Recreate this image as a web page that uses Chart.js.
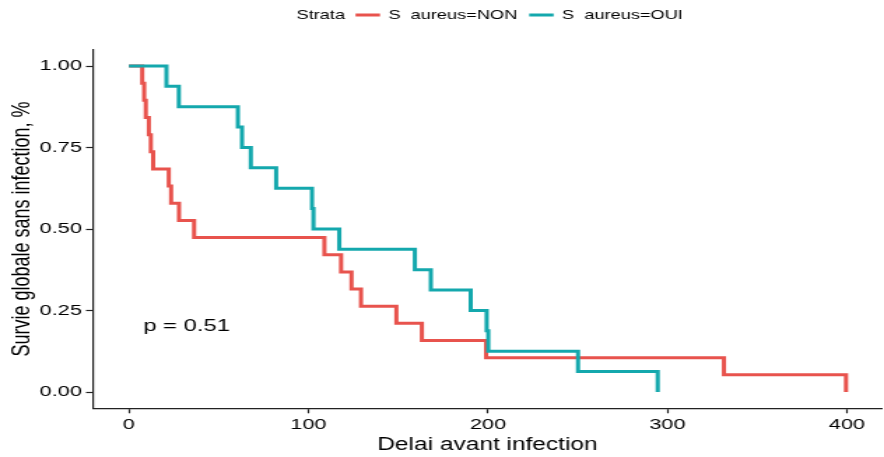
<!DOCTYPE html>
<html>
<head>
    <title>Survie globale sans infection</title>
    <script src="https://cdn.jsdelivr.net/npm/chart.js"></script>
    <style>
        body { margin: 0; overflow: hidden; background: #fff; }
        /* the reference plot is stretched horizontally, so draw narrow and scale */
        #wrap { width: 632px; height: 457px; transform: scaleX(1.39873); transform-origin: 0 0; }
    </style>
</head>
<body>
    <div id="wrap"><canvas id="chart"></canvas></div>

    <script>
        // Kaplan-Meier curves
        var nonTimes = [0, 7.4, 8.5, 9.4, 11.1, 12.2, 13.5, 22.2, 23.5, 27.9, 36.3, 108.9, 118.2, 124, 129.3, 149, 163.2, 199, 331.5, 399.5];
        var nonSurv  = [1, 0.947, 0.895, 0.842, 0.789, 0.737, 0.684, 0.632, 0.579, 0.526, 0.474, 0.421, 0.368, 0.316, 0.263, 0.211, 0.158, 0.105, 0.053, 0];

        var ouiTimes = [0, 20.9, 27.8, 60.7, 63, 67.9, 82, 102, 102.8, 117.2, 159.3, 168.2, 190.4, 199.3, 200.2, 250.2, 294.6];
        var ouiSurv  = [1, 0.938, 0.875, 0.813, 0.75, 0.688, 0.625, 0.563, 0.5, 0.438, 0.375, 0.313, 0.25, 0.188, 0.125, 0.063, 0];

        var seriesLabels = ['S  aureus=NON', 'S  aureus=OUI'];
        var seriesColors = ['#E8534D', '#14A8AD'];
        var legendTitle = 'Strata';

        var xTicks = [0, 100, 200, 300, 400];
        var yTicks = [0, 0.25, 0.5, 0.75, 1];

        var pValueText = 'p = 0.51';
        var pValueAt = { x: 8, y: 0.2 };

        var FONT = "'Liberation Sans', Arial, sans-serif";

        function toPoints(times, surv) {
            return times.map(function(t, i) {
                return { x: t, y: surv[i] };
            });
        }

        // legend row across the top, ggplot style: "Strata" then the two keys
        var topLegend = {
            id: 'topLegend',
            afterDraw: function(chart) {
                var ctx = chart.ctx;
                ctx.save();
                ctx.font = '13px ' + FONT;
                ctx.fillStyle = '#000';
                ctx.textBaseline = 'middle';
                var y = 15;
                var x = 212;
                ctx.fillText(legendTitle, x, y);
                x += ctx.measureText(legendTitle).width + 7.5;
                for (var i = 0; i < seriesLabels.length; i++) {
                    ctx.strokeStyle = seriesColors[i];
                    ctx.lineWidth = 3;
                    ctx.beginPath();
                    ctx.moveTo(x, y);
                    ctx.lineTo(x + 17.5, y);
                    ctx.stroke();
                    x += 17.5 + 6;
                    ctx.fillText(seriesLabels[i], x, y);
                    x += ctx.measureText(seriesLabels[i]).width + 8.5;
                }
                ctx.restore();
            }
        };

        // p-value text placed in data coordinates
        var pValueLabel = {
            id: 'pValueLabel',
            afterDatasetsDraw: function(chart) {
                var ctx = chart.ctx;
                ctx.save();
                ctx.font = '17px ' + FONT;
                ctx.fillStyle = '#000';
                ctx.textBaseline = 'middle';
                ctx.fillText(pValueText,
                    chart.scales.x.getPixelForValue(pValueAt.x),
                    chart.scales.y.getPixelForValue(pValueAt.y));
                ctx.restore();
            }
        };

        var ctx = document.getElementById('chart').getContext('2d');
        new Chart(ctx, {
            type: 'scatter',
            data: {
                datasets: [{
                    label: seriesLabels[0],
                    data: toPoints(nonTimes, nonSurv),
                    borderColor: seriesColors[0],
                    backgroundColor: seriesColors[0],
                    order: 1
                }, {
                    label: seriesLabels[1],
                    data: toPoints(ouiTimes, ouiSurv),
                    borderColor: seriesColors[1],
                    backgroundColor: seriesColors[1],
                    order: 0
                }]
            },
            options: {
                responsive: true,
                maintainAspectRatio: false,
                animation: false,
                layout: { padding: { top: 49.7, right: 0, left: 0, bottom: 0 } },
                datasets: {
                    scatter: {
                        showLine: true,
                        stepped: true,
                        borderWidth: 3,
                        pointRadius: 0,
                        pointHoverRadius: 0
                    }
                },
                plugins: {
                    legend: { display: false },
                    tooltip: { enabled: false }
                },
                scales: {
                    x: {
                        type: 'linear',
                        min: -20,
                        max: 419.5,
                        afterBuildTicks: function(scale) {
                            scale.ticks = xTicks.map(function(v) { return { value: v }; });
                        },
                        afterFit: function(scale) { scale.height = 48.7; },
                        ticks: {
                            color: '#000',
                            font: { family: FONT, size: 15.5 },
                            padding: 2,
                            maxRotation: 0
                        },
                        grid: { drawOnChartArea: false, drawTicks: true, tickLength: 5, color: '#222', tickWidth: 1.2 },
                        border: { display: true, color: '#222', width: 1.2 },
                        title: {
                            display: true,
                            text: 'Delai avant infection',
                            color: '#000',
                            font: { family: FONT, size: 17.5 },
                            padding: { top: 0, bottom: 1 }
                        }
                    },
                    y: {
                        min: -0.05,
                        max: 1.05,
                        afterBuildTicks: function(scale) {
                            scale.ticks = yTicks.map(function(v) { return { value: v }; });
                        },
                        afterFit: function(scale) { scale.width = 66.5; },
                        ticks: {
                            color: '#000',
                            font: { family: FONT, size: 15.5 },
                            padding: 3,
                            callback: function(v) { return Number(v).toFixed(2); }
                        },
                        grid: { drawOnChartArea: false, drawTicks: true, tickLength: 5, color: '#222', tickWidth: 1.2 },
                        border: { display: true, color: '#222', width: 1.2 },
                        title: {
                            display: true,
                            text: 'Survie globale sans infection, %',
                            color: '#000',
                            font: { family: FONT, size: 18 },
                            padding: { top: 5, bottom: 0 }
                        }
                    }
                }
            },
            plugins: [topLegend, pValueLabel]
        });
    </script>
</body>
</html>
